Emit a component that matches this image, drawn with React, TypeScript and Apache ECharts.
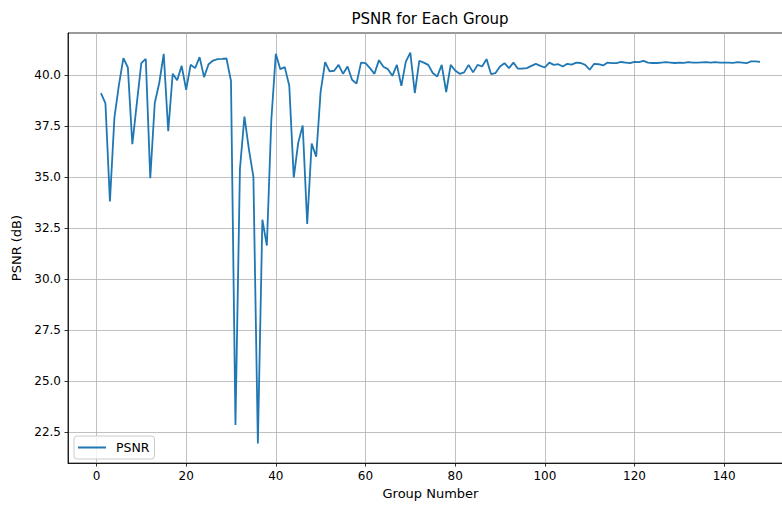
import React, { useEffect, useRef } from "react";
import * as echarts from "echarts";

const psnr: number[] = [
  39.1, 38.6, 33.8, 37.9, 39.5, 40.82, 40.36, 36.6, 38.6, 40.57,
  40.78, 34.94, 38.62, 39.6, 41.03, 37.24, 40.05, 39.73, 40.44, 39.27,
  40.49, 40.33, 40.87, 39.89, 40.52, 40.7, 40.77, 40.78, 40.8, 39.7,
  22.85, 35.4, 37.95, 36.35, 35.0, 21.94, 32.9, 31.64, 37.8, 41.03,
  40.28, 40.38, 39.47, 34.97, 36.68, 37.52, 32.69, 36.64, 35.99, 39.19,
  40.62, 40.17, 40.2, 40.49, 40.05, 40.41, 39.76, 39.57, 40.6, 40.57,
  40.33, 40.05, 40.72, 40.4, 40.28, 39.95, 40.49, 39.46, 40.65, 41.09,
  39.11, 40.69, 40.6, 40.49, 40.09, 39.92, 40.49, 39.16, 40.49, 40.21,
  40.05, 40.12, 40.49, 40.12, 40.49, 40.41, 40.77, 40.04, 40.09, 40.41,
  40.57, 40.33, 40.6, 40.3, 40.31, 40.33, 40.44, 40.54, 40.44, 40.36,
  40.6, 40.49, 40.52, 40.41, 40.54, 40.5, 40.6, 40.58, 40.49, 40.25,
  40.54, 40.52, 40.46, 40.6, 40.57, 40.57, 40.63, 40.6, 40.57, 40.63,
  40.62, 40.68, 40.6, 40.58, 40.58, 40.6, 40.62, 40.6, 40.58, 40.6,
  40.59, 40.62, 40.6, 40.6, 40.61, 40.62, 40.6, 40.62, 40.6, 40.6,
  40.6, 40.59, 40.62, 40.6, 40.57, 40.66, 40.66, 40.64,
];

const groups: number[] = psnr.map((_, i) => i + 1);

const xTicks: number[] = [0, 20, 40, 60, 80, 100, 120, 140];
const yTicks: number[] = [22.5, 25, 27.5, 30, 32.5, 35, 37.5, 40];

const FONT = "DejaVu Sans";

export default function App() {
  const ref = useRef<HTMLDivElement>(null);

  useEffect(() => {
    if (!ref.current) return;
    const chart = echarts.init(ref.current, undefined, { renderer: "svg" });
    const axisLineStyle = { color: "#000", width: 0.8 };
    const gridLineStyle = { color: "#b0b0b0", width: 0.8 };
    chart.setOption({
      animation: false,
      backgroundColor: "#fff",
      title: {
        text: "PSNR for Each Group",
        left: 430,
        top: 11,
        padding: 0,
        textAlign: "center",
        textStyle: { fontFamily: FONT, fontSize: 15, fontWeight: "normal", color: "#000" },
      },
      grid: {
        left: 68,
        top: 33,
        right: 1,
        bottom: 39,
        show: true,
        borderColor: "#000",
        borderWidth: 0.8,
        backgroundColor: "#fff",
      },
      legend: {
        left: 74,
        top: 436,
        padding: [5, 5, 5, 4],
        backgroundColor: "rgba(255,255,255,0.8)",
        borderColor: "#cccccc",
        borderWidth: 1,
        borderRadius: 3,
        itemWidth: 28,
        itemHeight: 2,
        icon: "rect",
        textStyle: { fontFamily: FONT, fontSize: 12.5, color: "#000", padding: [0, 0, 0, 5] },
        data: [{ name: "PSNR" }],
      },
      xAxis: {
        type: "value",
        min: -6.35,
        max: 155.35,
        name: "Group Number",
        nameLocation: "middle",
        nameGap: 23,
        nameTextStyle: { fontFamily: FONT, fontSize: 13, color: "#000" },
        axisLine: { show: true, onZero: false, lineStyle: axisLineStyle },
        axisTick: { show: true, length: 3.5, customValues: xTicks, lineStyle: axisLineStyle },
        axisLabel: {
          customValues: xTicks,
          fontFamily: FONT,
          fontSize: 12,
          color: "#000",
          margin: 7,
          formatter: (v: number) => String(v),
        },
        splitLine: { show: true, lineStyle: gridLineStyle },
      },
      yAxis: {
        type: "value",
        min: 20.98,
        max: 42.05,
        name: "PSNR (dB)",
        nameLocation: "middle",
        nameGap: 45,
        nameTextStyle: { fontFamily: FONT, fontSize: 13, color: "#000" },
        axisLine: { show: true, onZero: false, lineStyle: axisLineStyle },
        axisTick: { show: true, length: 3.5, customValues: yTicks, lineStyle: axisLineStyle },
        axisLabel: {
          customValues: yTicks,
          fontFamily: FONT,
          fontSize: 12,
          color: "#000",
          margin: 7,
          formatter: (v: number) => v.toFixed(1),
        },
        splitLine: { show: true, lineStyle: gridLineStyle },
      },
      series: [
        {
          name: "PSNR",
          type: "line",
          data: groups.map((g, i) => [g, psnr[i]]),
          symbol: "none",
          showSymbol: false,
          color: "#1f77b4",
          lineStyle: { color: "#1f77b4", width: 1.8 },
        },
      ],
    });
    return () => chart.dispose();
  }, []);

  return (
    <div
      style={{
        position: "fixed",
        left: 0,
        top: 0,
        width: 782,
        height: 505,
        overflow: "hidden",
        background: "#fff",
      }}
    >
      <div ref={ref} style={{ position: "absolute", left: 0, top: 0, width: 794, height: 505 }} />
    </div>
  );
}
